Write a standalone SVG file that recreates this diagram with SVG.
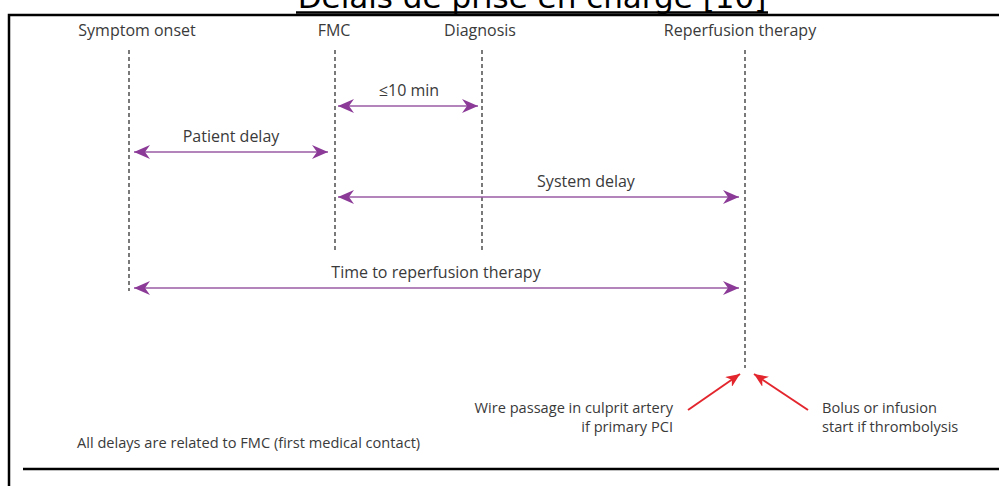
<svg xmlns="http://www.w3.org/2000/svg" width="999" height="486" viewBox="0 0 999 486">
<style>
  .t { font-family: "Open Sans", "Liberation Sans", sans-serif; font-size: 16px; fill: #3a3a3a; }
  .s { font-family: "Open Sans", "Liberation Sans", sans-serif; font-size: 14.6px; fill: #3a3a3a; }
  .title { font-family: "DejaVu Sans", sans-serif; font-size: 31px; fill: #000; }
  .frame { stroke: #000; stroke-width: 2.5; fill: none; }
  .dash { stroke: #222; stroke-width: 1.2; stroke-dasharray: 4 3; fill: none; }
  .pl { stroke: #9a5aa6; stroke-width: 1.6; fill: none; marker-start: url(#pa); marker-end: url(#pa); }
  .rl { stroke: #e3262e; stroke-width: 2; fill: none; marker-end: url(#ra); }
</style>
<defs>
  <marker id="pa" markerUnits="userSpaceOnUse" markerWidth="18" markerHeight="14" refX="16" refY="7" orient="auto-start-reverse" viewBox="0 0 18 14">
    <path d="M0,0 L16,7 L0,14 L5,7 Z" fill="#8b3a97"/>
  </marker>
  <marker id="ra" markerUnits="userSpaceOnUse" markerWidth="16" markerHeight="12" refX="14" refY="6" orient="auto" viewBox="0 0 16 12">
    <path d="M0,0 L14,6 L0,12 L4,6 Z" fill="#e3262e"/>
  </marker>
</defs>
<rect width="999" height="486" fill="#fff"/>

<g id="title">
  <text class="title" x="532" y="8" text-anchor="middle">Délais de prise en charge [10]</text>
  <line x1="296" y1="12.5" x2="768" y2="12.5" stroke="#000" stroke-width="2.5"/>
</g>

<g id="frame">
  <polyline class="frame" points="9,486 9,15 999,15"/>
  <line class="frame" x1="23" y1="469" x2="999" y2="469"/>
</g>

<g id="symptom-onset">
  <text class="t" x="137" y="36" text-anchor="middle">Symptom onset</text>
  <line class="dash" x1="129" y1="50" x2="129" y2="291"/>
</g>
<g id="fmc">
  <text class="t" x="334" y="36" text-anchor="middle">FMC</text>
  <line class="dash" x1="335" y1="50" x2="335" y2="251"/>
</g>
<g id="diagnosis">
  <text class="t" x="480" y="36" text-anchor="middle">Diagnosis</text>
  <line class="dash" x1="482" y1="50" x2="482" y2="251"/>
</g>
<g id="reperfusion-therapy">
  <text class="t" x="740" y="36" text-anchor="middle">Reperfusion therapy</text>
  <line class="dash" x1="745" y1="50" x2="745" y2="368"/>
</g>

<g id="connectors">
  <line class="pl" x1="338" y1="106" x2="478" y2="106"/>
  <line class="pl" x1="134" y1="152" x2="328" y2="152"/>
  <line class="pl" x1="338" y1="197" x2="739" y2="197"/>
  <line class="pl" x1="134" y1="288" x2="739" y2="288"/>
  <line class="rl" x1="688" y1="410" x2="740" y2="374"/>
  <line class="rl" x1="808" y1="410" x2="754" y2="374"/>
</g>

<g id="labels">
  <text class="t" x="409" y="96" text-anchor="middle">≤10 min</text>
  <text class="t" x="231" y="142" text-anchor="middle">Patient delay</text>
  <text class="t" x="586" y="187" text-anchor="middle">System delay</text>
  <text class="t" x="436" y="278" text-anchor="middle">Time to reperfusion therapy</text>
</g>

<g id="note-pci">
  <text class="s" x="673" y="413" text-anchor="end">Wire passage in culprit artery</text>
  <text class="s" x="673" y="432" text-anchor="end">if primary PCI</text>
</g>
<g id="note-thrombolysis">
  <text class="s" x="822" y="413">Bolus or infusion</text>
  <text class="s" x="822" y="432">start if thrombolysis</text>
</g>
<g id="footer">
  <text class="s" x="77" y="448">All delays are related to FMC (first medical contact)</text>
</g>
</svg>
